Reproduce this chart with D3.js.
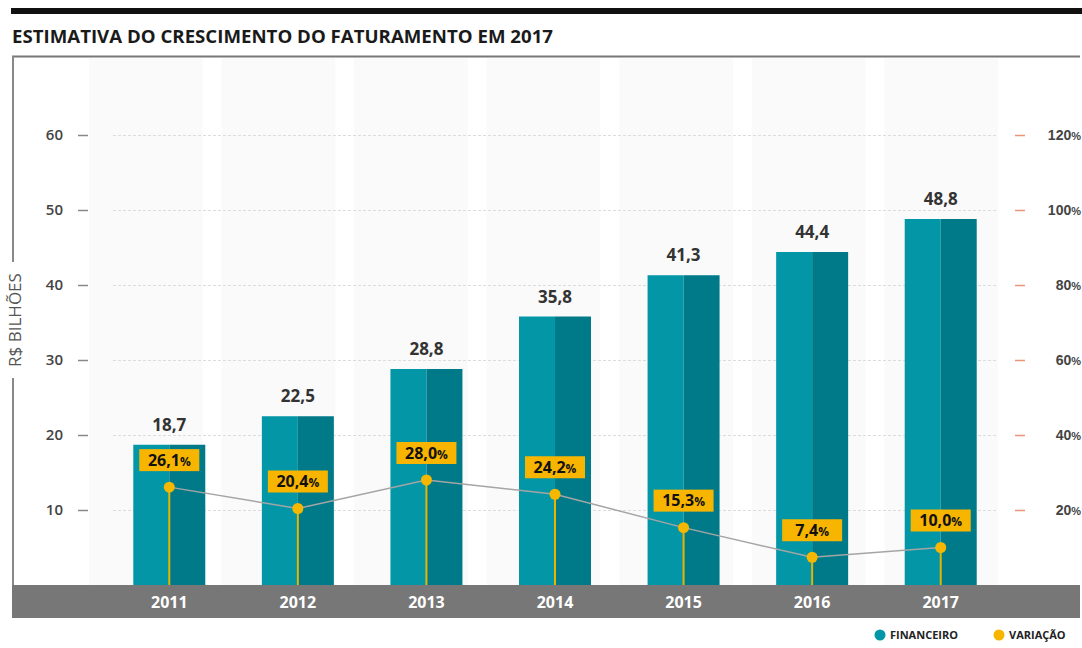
<!DOCTYPE html>
<html>
<head>
<meta charset="utf-8">
<script src="https://cdn.jsdelivr.net/npm/d3@7"></script>
<style>
  body { margin: 0; background: #fff; }
  svg { font-family: "Open Sans", "Noto Sans", sans-serif; }
</style>
</head>
<body>
<script>
// Data
const years = ["2011", "2012", "2013", "2014", "2015", "2016", "2017"];
const revenue = [18.7, 22.5, 28.8, 35.8, 41.3, 44.4, 48.8];   // R$ bilhões
const growth = [26.1, 20.4, 28.0, 24.2, 15.3, 7.4, 10.0];      // variação %
const leftTicks = [10, 20, 30, 40, 50, 60];
const rightTicks = [20, 40, 60, 80, 100, 120];

const width = 1082, height = 648;
const fmt = v => v.toFixed(1).replace(".", ",");

const svg = d3.select("body").append("svg")
  .attr("width", width)
  .attr("height", height);

// Scales
const x = d3.scaleBand().domain(years).range([105, 1005]).paddingInner(0.44).paddingOuter(0.22);
const stripes = d3.scaleBand().domain(years).range([89, 998]).paddingInner(0.143).paddingOuter(0);
const y = d3.scaleLinear().domain([0, 60]).range([585, 135]);
const y2 = d3.scaleLinear().domain([0, 120]).range([585, 135]);

// Top rule and title
svg.append("rect").attr("x", 11).attr("y", 8).attr("width", width - 11).attr("height", 6).attr("fill", "#111");
svg.append("text")
  .attr("x", 12).attr("y", 43)
  .attr("font-size", 17).attr("font-weight", 700)
  .attr("fill", "#1a1a1a")
  .attr("textLength", 541).attr("lengthAdjust", "spacingAndGlyphs")
  .text("ESTIMATIVA DO CRESCIMENTO DO FATURAMENTO EM 2017");

// Background stripes
svg.append("g").selectAll("rect")
  .data(years).join("rect")
  .attr("x", d => stripes(d)).attr("y", 58)
  .attr("width", stripes.bandwidth()).attr("height", 585 - 58)
  .attr("fill", "#fafafa");

// Frame (top + left)
svg.append("line").attr("x1", 12).attr("x2", 1080).attr("y1", 56.5).attr("y2", 56.5)
  .attr("stroke", "#777").attr("stroke-width", 2);
svg.append("line").attr("x1", 13).attr("x2", 13).attr("y1", 56).attr("y2", 618)
  .attr("stroke", "#888").attr("stroke-width", 2);

// Gridlines
svg.append("g").selectAll("line")
  .data(leftTicks).join("line")
  .attr("x1", 113).attr("x2", 998)
  .attr("y1", d => y(d) + 0.5).attr("y2", d => y(d) + 0.5)
  .attr("stroke", "#dcdcdc").attr("stroke-dasharray", "3,2");

// Left axis
const gl = svg.append("g")
  .attr("transform", "translate(88,0)")
  .call(d3.axisLeft(y).tickValues(leftTicks).tickSize(10).tickPadding(15).tickFormat(d => d));
gl.select(".domain").remove();
gl.selectAll(".tick line").attr("stroke", "#888").attr("stroke-width", 1.5);
gl.selectAll(".tick text").attr("font-size", 15).attr("font-weight", 600).attr("fill", "#444")
  .attr("font-family", "'Open Sans', sans-serif");

// Right axis
const gr = svg.append("g")
  .attr("transform", "translate(1015,0)")
  .call(d3.axisRight(y2).tickValues(rightTicks).tickSize(10).tickPadding(0).tickFormat(""));
gr.select(".domain").remove();
gr.selectAll(".tick line").attr("stroke", "#e8967a").attr("stroke-width", 1.5);
gr.selectAll(".tick").append("text")
  .attr("x", 66).attr("dy", "0.35em")
  .attr("text-anchor", "end")
  .attr("fill", "#444").attr("font-size", 14).attr("font-weight", 600)
  .call(t => t.append("tspan").text(d => d))
  .call(t => t.append("tspan").attr("font-size", 11).text("%"));

// Y axis title with gap in frame
const titleG = svg.append("g").attr("transform", "translate(15,320) rotate(-90)");
titleG.append("rect").attr("x", -58).attr("y", -12).attr("width", 116).attr("height", 24).attr("fill", "#fff");
titleG.append("text").attr("text-anchor", "middle").attr("dy", "0.35em")
  .attr("font-size", 17).attr("fill", "#555").text("R$ BILHÕES");

// Bars (two-tone)
const bars = svg.append("g").selectAll("g")
  .data(years).join("g");
bars.append("rect")
  .attr("x", d => x(d)).attr("y", (d, i) => y(revenue[i]))
  .attr("width", x.bandwidth() / 2).attr("height", (d, i) => y(0) - y(revenue[i]))
  .attr("fill", "#0396a6");
bars.append("rect")
  .attr("x", d => x(d) + x.bandwidth() / 2).attr("y", (d, i) => y(revenue[i]))
  .attr("width", x.bandwidth() / 2).attr("height", (d, i) => y(0) - y(revenue[i]))
  .attr("fill", "#007a88");
bars.append("text")
  .attr("x", d => x(d) + x.bandwidth() / 2)
  .attr("y", (d, i) => y(revenue[i]) - 14)
  .attr("text-anchor", "middle")
  .attr("font-size", 17).attr("font-weight", 700).attr("fill", "#333")
  .text((d, i) => fmt(revenue[i]));

// Bottom band with years
svg.append("rect").attr("x", 12).attr("y", 585).attr("width", 1068).attr("height", 33).attr("fill", "#777");
svg.append("g").selectAll("text")
  .data(years).join("text")
  .attr("x", d => x(d) + x.bandwidth() / 2).attr("y", 602).attr("dy", "0.35em")
  .attr("text-anchor", "middle")
  .attr("font-size", 16).attr("font-weight", 700).attr("fill", "#fff")
  .text(d => d);

// Variation stems, line and dots
const cx = d => x(d) + x.bandwidth() / 2;
svg.append("g").selectAll("line")
  .data(years).join("line")
  .attr("x1", cx).attr("x2", cx)
  .attr("y1", (d, i) => y2(growth[i])).attr("y2", y(0))
  .attr("stroke", "#e8b400").attr("stroke-width", 2);

svg.append("path")
  .datum(years)
  .attr("fill", "none").attr("stroke", "#a5a5a5").attr("stroke-width", 1.5)
  .attr("d", d3.line().x(cx).y((d, i) => y2(growth[i])));

svg.append("g").selectAll("circle")
  .data(years).join("circle")
  .attr("cx", cx).attr("cy", (d, i) => y2(growth[i]))
  .attr("r", 5.5).attr("fill", "#f6b700");

// Variation labels
const lab = svg.append("g").selectAll("g")
  .data(years).join("g")
  .attr("transform", (d, i) => `translate(${cx(d)},${y2(growth[i]) - 27})`);
lab.append("rect")
  .attr("x", -30).attr("y", -11).attr("width", 60).attr("height", 22)
  .attr("fill", "#f8b500");
lab.append("text")
  .attr("text-anchor", "middle").attr("dy", "0.36em")
  .attr("font-size", 16).attr("font-weight", 700).attr("fill", "#111")
  .call(t => t.append("tspan").text((d, i) => fmt(growth[i])))
  .call(t => t.append("tspan").attr("font-size", 12).text("%"));

// Legend
const legend = [
  { label: "FINANCEIRO", color: "#0396a6", x: 880 },
  { label: "VARIAÇÃO", color: "#f8b500", x: 999 }
];
const lg = svg.append("g").selectAll("g").data(legend).join("g")
  .attr("transform", d => `translate(${d.x},635)`);
lg.append("circle").attr("r", 5.5).attr("fill", d => d.color);
lg.append("text").attr("x", 10).attr("dy", "0.35em")
  .attr("font-size", 11).attr("font-weight", 700).attr("fill", "#222")
  .text(d => d.label);
</script>
</body>
</html>
